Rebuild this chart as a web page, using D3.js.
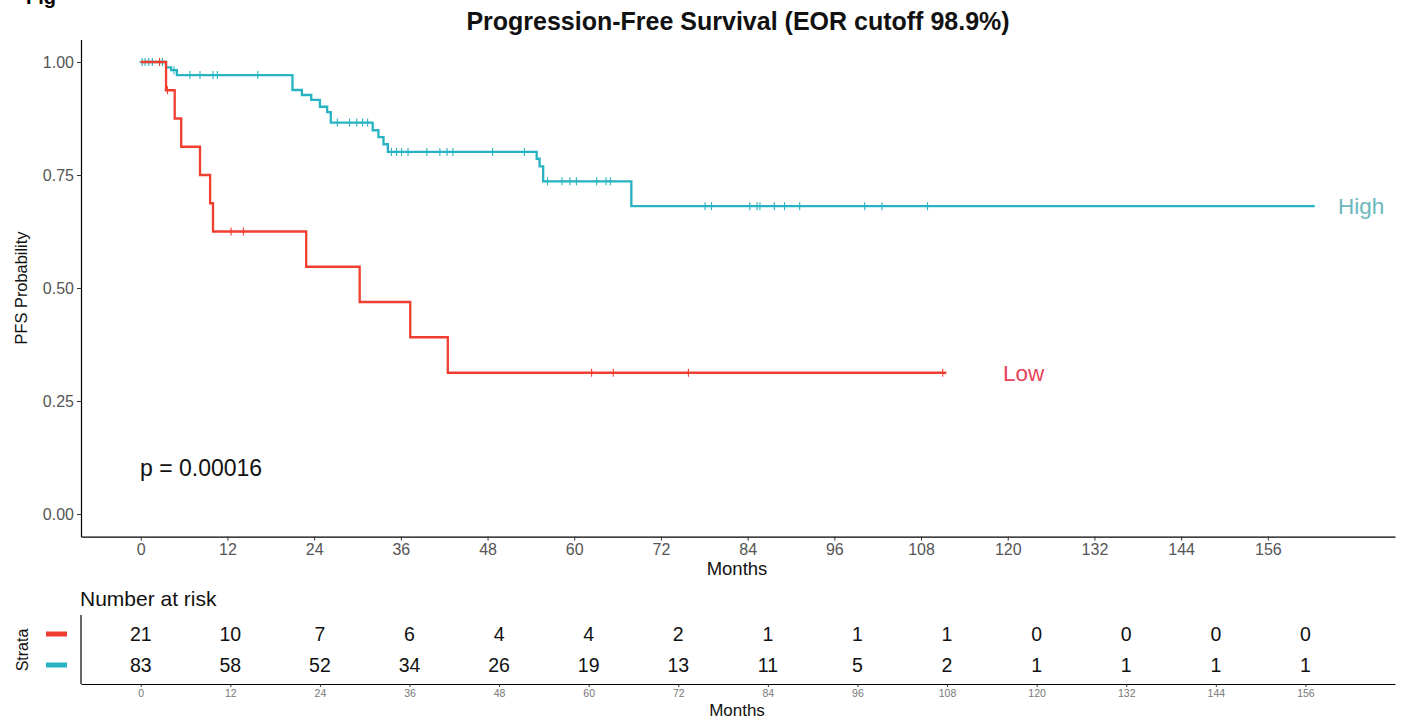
<!DOCTYPE html>
<html>
<head>
<meta charset="utf-8">
<script src="https://cdn.jsdelivr.net/npm/d3@7"></script>
<style>
  body { margin: 0; background: #ffffff; }
  svg { display: block; font-family: "Liberation Sans", Arial, sans-serif; }
</style>
</head>
<body>
<svg id="chart" width="1406" height="721"></svg>
<script>
// ---------------- data ----------------
const monthTicks = [0, 12, 24, 36, 48, 60, 72, 84, 96, 108, 120, 132, 144, 156];
const probTicks = [0, 0.25, 0.5, 0.75, 1.0];

const strata = ["Low", "High"];

// High group: step points (time, survival after event)
const highTimes = [0, 3.5, 4.2, 5.0, 21.0, 22.3, 23.6, 24.8, 25.8, 26.3, 32.1, 32.9, 33.6, 34.2, 54.8, 55.2, 55.7, 67.9];
const highSurv  = [1, 0.988, 0.982, 0.971, 0.938, 0.927, 0.916, 0.901, 0.889, 0.866, 0.849, 0.834, 0.818, 0.801, 0.786, 0.769, 0.736, 0.681];
const highEnd = 162.5;
const highCensor = [0.2, 0.6, 1.1, 1.6, 3.0, 4.6, 6.8, 8.2, 10.0, 10.6, 16.2, 27.2, 28.9, 29.9, 30.7, 31.4,
  34.7, 35.4, 36.1, 37.0, 39.6, 41.4, 42.4, 43.2, 48.7, 53.1, 56.3, 58.3, 59.4, 60.3, 63.1, 64.4, 65.0,
  78.1, 79.0, 84.3, 85.3, 85.7, 87.7, 89.1, 91.2, 100.2, 102.6, 108.9];

// Low group
const lowTimes = [0, 3.5, 4.7, 5.6, 8.2, 9.6, 10.0, 22.9, 30.3, 37.3, 42.5];
const lowSurv  = [1, 0.9375, 0.875, 0.8125, 0.75, 0.6875, 0.625, 0.547, 0.469, 0.391, 0.3125];
const lowEnd = 111.5;
const lowCensor = [2.6, 3.7, 12.5, 14.2, 62.4, 65.4, 75.8, 111.0];

// Number at risk
const riskLow  = [21, 10, 7, 6, 4, 4, 2, 1, 1, 1, 0, 0, 0, 0];
const riskHigh = [83, 58, 52, 34, 26, 19, 13, 11, 5, 2, 1, 1, 1, 1];

const pValueText = "p = 0.00016";

// ---------------- style ----------------
const colLow = "#F03E30";
const colHigh = "#27B3C2";
const colLowText = "#E5455A";
const colHighText = "#6DB6BE";
const tickCol = "#555555";
const FONT = "Liberation Sans, Arial, sans-serif";

const svg = d3.select("#chart");

// figure label, cut off at the top edge as in the source image
svg.append("text").attr("x", 26).attr("y", 4).attr("font-size", 20).attr("font-weight", "bold")
  .attr("fill", "#000").text("Fig");

// ---------------- main plot ----------------
const x = d3.scaleLinear().domain([-8.27, 173.6]).range([81, 1395]);
const y = d3.scaleLinear().domain([-0.05, 1.05]).range([536.6, 39.4]);

// title
svg.append("text").attr("x", 738).attr("y", 30).attr("text-anchor", "middle")
  .attr("font-size", 25).attr("font-weight", "bold").attr("fill", "#111")
  .text("Progression-Free Survival (EOR cutoff 98.9%)");

// axes
const xAxis = d3.axisBottom(x).tickValues(monthTicks).tickSize(4).tickSizeOuter(0).tickPadding(3);
const gx = svg.append("g").attr("transform", `translate(0,${y.range()[0]})`).call(xAxis);
gx.select(".domain").attr("stroke", "#000").attr("stroke-width", 1.2);
gx.selectAll(".tick line").attr("stroke", "#333");
gx.selectAll(".tick text").attr("fill", tickCol).attr("font-size", 16).attr("font-family", FONT);

const yAxis = d3.axisLeft(y).tickValues(probTicks).tickFormat(d3.format(".2f")).tickSize(4).tickSizeOuter(0).tickPadding(3);
const gy = svg.append("g").attr("transform", `translate(${x.range()[0]},0)`).call(yAxis);
gy.select(".domain").attr("stroke", "#000").attr("stroke-width", 1.2);
gy.selectAll(".tick line").attr("stroke", "#333");
gy.selectAll(".tick text").attr("fill", tickCol).attr("font-size", 16).attr("font-family", FONT);

svg.append("text").attr("transform", "translate(27,288) rotate(-90)").attr("text-anchor", "middle")
  .attr("font-size", 16.4).attr("fill", "#111").text("PFS Probability");
svg.append("text").attr("x", 737).attr("y", 575).attr("text-anchor", "middle")
  .attr("font-size", 18.5).attr("fill", "#111").text("Months");

// step curves
function stepData(times, surv, end) {
  const pts = times.map((t, i) => [t, surv[i]]);
  pts.push([end, surv[surv.length - 1]]);
  return pts;
}
function survAt(times, surv, t) {
  let s = surv[0];
  for (let i = 0; i < times.length; i++) if (times[i] <= t) s = surv[i];
  return s;
}
const line = d3.line().x(d => x(d[0])).y(d => y(d[1])).curve(d3.curveStepAfter);

const groups = [
  { name: "High", times: highTimes, surv: highSurv, end: highEnd, cens: highCensor, col: colHigh },
  { name: "Low", times: lowTimes, surv: lowSurv, end: lowEnd, cens: lowCensor, col: colLow }
];

groups.forEach(g => {
  svg.append("path").datum(stepData(g.times, g.surv, g.end))
    .attr("fill", "none").attr("stroke", g.col).attr("stroke-width", 2.3).attr("d", line);
  const cg = svg.append("g").attr("stroke", g.col).attr("stroke-width", 1.1);
  g.cens.forEach(t => {
    const cx = x(t), cy = y(survAt(g.times, g.surv, t));
    cg.append("line").attr("x1", cx).attr("x2", cx).attr("y1", cy - 4).attr("y2", cy + 4);
    cg.append("line").attr("x1", cx - 3).attr("x2", cx + 3).attr("y1", cy).attr("y2", cy);
  });
});

// group labels
svg.append("text").attr("x", 1338).attr("y", y(highSurv[highSurv.length - 1]) + 8)
  .attr("font-size", 22.5).attr("fill", colHighText).text("High");
svg.append("text").attr("x", 1003).attr("y", y(lowSurv[lowSurv.length - 1]) + 8)
  .attr("font-size", 22.5).attr("fill", colLowText).text("Low");

// p-value
svg.append("text").attr("x", 140).attr("y", 476).attr("font-size", 23).attr("fill", "#111").text(pValueText);

// ---------------- risk table ----------------
const xt = d3.scaleLinear().domain([-8, 168]).range([81, 1395]);
const yt = d3.scalePoint().domain(strata).range([634, 665]);

svg.append("text").attr("x", 80).attr("y", 606).attr("font-size", 21).attr("fill", "#111").text("Number at risk");

const xtAxis = d3.axisBottom(xt).tickValues(monthTicks).tickSize(3).tickSizeOuter(0).tickPadding(3);
const gxt = svg.append("g").attr("transform", "translate(0,684)").call(xtAxis);
gxt.select(".domain").attr("stroke", "#000").attr("stroke-width", 1.2);
gxt.selectAll(".tick line").attr("stroke", "#333");
gxt.selectAll(".tick text").attr("fill", "#777").attr("font-size", 10.5).attr("font-family", FONT);

svg.append("line").attr("x1", 81).attr("x2", 81).attr("y1", 615).attr("y2", 684)
  .attr("stroke", "#000").attr("stroke-width", 1.2);

svg.append("text").attr("x", 737).attr("y", 716).attr("text-anchor", "middle")
  .attr("font-size", 17).attr("fill", "#111").text("Months");

svg.append("text").attr("transform", "translate(28,650) rotate(-90)").attr("text-anchor", "middle")
  .attr("font-size", 16).attr("fill", "#111").text("Strata");

// legend bars
[["Low", colLow], ["High", colHigh]].forEach(([s, c]) => {
  svg.append("rect").attr("x", 46).attr("y", yt(s) - 2.5).attr("width", 21).attr("height", 5).attr("fill", c);
});

const rows = [["Low", riskLow], ["High", riskHigh]];
rows.forEach(([s, vals]) => {
  svg.append("g").selectAll("text").data(vals).join("text")
    .attr("x", (d, i) => xt(monthTicks[i]))
    .attr("y", yt(s))
    .attr("dy", "0.35em")
    .attr("text-anchor", "middle")
    .attr("font-size", 19.5).attr("fill", "#111")
    .text(d => d);
});
</script>
</body>
</html>
